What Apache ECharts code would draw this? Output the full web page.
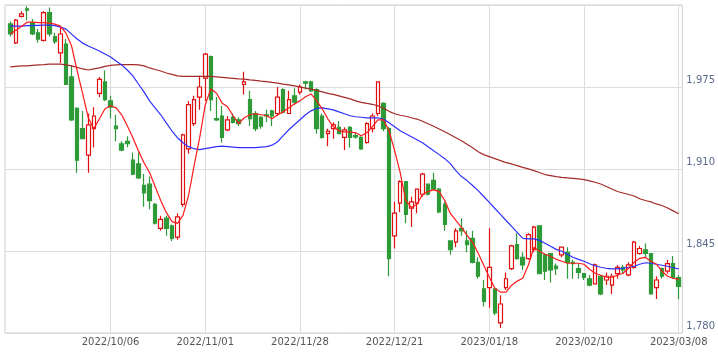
<!DOCTYPE html>
<html>
<head>
<meta charset="utf-8">
<script src="https://cdn.jsdelivr.net/npm/echarts@6/dist/echarts.min.js"></script>
<style>
	html, body { margin: 0; padding: 0; background: #fff; }
	#chart { width: 718px; height: 352px; }
</style>
</head>
<body>
<div id="chart"></div>
<script>
// trading days, 2022/09/08 .. 2023/03/08
const dates = [
	'2022/09/08','2022/09/09','2022/09/12','2022/09/13','2022/09/14','2022/09/15','2022/09/16','2022/09/20','2022/09/21','2022/09/22',
	'2022/09/26','2022/09/27','2022/09/28','2022/09/29','2022/09/30','2022/10/03','2022/10/04','2022/10/05','2022/10/06','2022/10/07',
	'2022/10/11','2022/10/12','2022/10/13','2022/10/14','2022/10/17','2022/10/18','2022/10/19','2022/10/20','2022/10/21','2022/10/24',
	'2022/10/25','2022/10/26','2022/10/27','2022/10/28','2022/10/31','2022/11/01','2022/11/02','2022/11/04','2022/11/07','2022/11/08',
	'2022/11/09','2022/11/10','2022/11/11','2022/11/14','2022/11/15','2022/11/16','2022/11/17','2022/11/18','2022/11/21','2022/11/22',
	'2022/11/24','2022/11/25','2022/11/28','2022/11/29','2022/11/30','2022/12/01','2022/12/02','2022/12/05','2022/12/06','2022/12/07',
	'2022/12/08','2022/12/09','2022/12/12','2022/12/13','2022/12/14','2022/12/15','2022/12/16','2022/12/19','2022/12/20','2022/12/21',
	'2022/12/22','2022/12/23','2022/12/26','2022/12/27','2022/12/28','2022/12/29','2022/12/30','2023/01/04','2023/01/05','2023/01/06',
	'2023/01/10','2023/01/11','2023/01/12','2023/01/13','2023/01/16','2023/01/17','2023/01/18','2023/01/19','2023/01/20','2023/01/23',
	'2023/01/24','2023/01/25','2023/01/26','2023/01/27','2023/01/30','2023/01/31','2023/02/01','2023/02/02','2023/02/03','2023/02/06',
	'2023/02/07','2023/02/08','2023/02/09','2023/02/10','2023/02/13','2023/02/14','2023/02/15','2023/02/16','2023/02/17','2023/02/20',
	'2023/02/21','2023/02/22','2023/02/24','2023/02/27','2023/02/28','2023/03/01','2023/03/02','2023/03/03','2023/03/06','2023/03/07',
	'2023/03/08'
];

const tickDates = ['2022/10/06', '2022/11/01', '2022/11/28', '2022/12/21', '2023/01/18', '2023/02/10', '2023/03/08'];
const yTicks = [1780, 1845, 1910, 1975, 2040];

const open = [
	2025, 2010, 2031, 2037, 2026, 2018, 2012, 2034, 2015, 2002,
	2009, 1983, 1958, 1942, 1921, 1942, 1970, 1979, 1964, 1944,
	1930, 1932, 1917, 1914, 1897, 1898, 1882, 1863, 1871, 1865,
	1856, 1882, 1926, 1946, 1967, 1982, 1999, 1950, 1952, 1941,
	1951, 1949, 1977, 1965, 1954, 1951, 1953, 1956, 1954, 1973,
	1954, 1968, 1971, 1979, 1979, 1973, 1952, 1938, 1942, 1943,
	1935, 1943, 1936.5, 1935, 1931, 1942, 1954, 1962, 1942, 1857,
	1883, 1900, 1879, 1883, 1890, 1898, 1901, 1894, 1882, 1853,
	1852, 1863, 1853, 1855, 1836, 1815, 1816, 1815, 1788, 1816,
	1831, 1850, 1840, 1839, 1846, 1865, 1842, 1843, 1833, 1842,
	1844, 1836, 1831, 1827, 1823, 1819, 1825, 1822, 1818, 1827,
	1832, 1826, 1832, 1843, 1846, 1843, 1816, 1831, 1829, 1835,
	1824
];
const close = [
	2017, 2028, 2033, 2036, 2017, 2013, 2034, 2017, 2011, 2017,
	1977, 1949, 1917, 1934, 1945, 1952, 1981, 1965, 1959, 1942,
	1925, 1930, 1906, 1903, 1891, 1885, 1867, 1870, 1863, 1855,
	1872, 1937, 1961, 1965, 1975, 2001, 1965, 1949, 1935, 1949,
	1947, 1946, 1979, 1950, 1942, 1944, 1952, 1952, 1967, 1955,
	1965, 1963, 1975, 1978, 1972, 1942, 1935, 1940, 1945, 1938,
	1941, 1935, 1935.5, 1926, 1946, 1952, 1979, 1942, 1839, 1875,
	1900, 1874, 1884, 1894, 1906, 1890, 1894, 1876, 1866, 1846,
	1861, 1861, 1850, 1836, 1825, 1805, 1832, 1796, 1803, 1823,
	1849, 1839, 1834, 1858, 1864, 1827, 1829, 1830, 1831, 1848,
	1836, 1835, 1828, 1824, 1818, 1834, 1811, 1825, 1825, 1832,
	1830, 1834, 1852, 1847, 1843, 1811, 1822, 1825, 1835, 1824,
	1817
];
const low = [
	2015, 2009, 2030, 2028, 2016, 2010, 2011, 2015, 2009, 1994,
	1977, 1948, 1907, 1934, 1907, 1927, 1967, 1964, 1950, 1932,
	1924, 1927, 1905, 1902, 1880, 1878, 1866, 1861, 1857, 1853,
	1854, 1880, 1922, 1944, 1957, 1964, 1956, 1948, 1931, 1940,
	1946, 1944, 1969, 1944, 1940, 1942, 1947, 1944, 1952, 1954,
	1954, 1961, 1969, 1973, 1971, 1938, 1934, 1928, 1934, 1938,
	1925, 1927, 1934, 1925, 1930, 1939, 1952, 1940, 1825, 1847,
	1876, 1867, 1864, 1875, 1888, 1889, 1893, 1875, 1861, 1842,
	1848, 1857, 1844, 1835, 1823, 1801, 1800, 1794, 1784, 1814,
	1830, 1838, 1830, 1838, 1844, 1827, 1822, 1820, 1826, 1840,
	1823, 1823, 1823, 1822, 1817, 1819, 1810, 1818, 1811, 1823,
	1827, 1825, 1831, 1842, 1840, 1811, 1807, 1823, 1827, 1823,
	1807
];
const high = [
	2027, 2029, 2035, 2039, 2029, 2021, 2035, 2038, 2018, 2022,
	2013, 1992, 1959, 1956, 1954, 1959, 1983, 1988, 1968, 1953,
	1932, 1936, 1923, 1923, 1906, 1904, 1883, 1873, 1873, 1866,
	1875, 1938, 1964, 1968, 1984, 2002, 2000, 1967, 1960, 1952,
	1954, 1951, 1987, 1972, 1956, 1952, 1957, 1957, 1975, 1974,
	1972, 1974, 1977, 1980, 1980, 1974, 1954, 1942, 1947, 1948,
	1943, 1944, 1939, 1936, 1947, 1954, 1979, 1963, 1943, 1884,
	1901, 1900, 1888, 1894, 1907, 1898, 1907, 1895, 1884, 1853,
	1863, 1871, 1861, 1861, 1840, 1822, 1863, 1815, 1810, 1828,
	1850, 1859, 1844, 1859, 1865, 1865, 1843, 1843, 1835, 1848,
	1848, 1838, 1835, 1827, 1826, 1835, 1826, 1828, 1827, 1834,
	1834, 1836, 1853, 1849, 1851, 1843, 1825, 1832, 1838, 1841,
	1826
];

// moving averages
const maShort = [
	2017, 2020, 2023, 2026.4, 2026.4, 2026, 2026, 2025.6, 2024.8, 2023.3,
	2017.7, 2007.5, 1987.7, 1969.5, 1950.6, 1941.9, 1949.8, 1957.7, 1960.1, 1958.5,
	1953, 1944.3, 1934.8, 1924.5, 1915, 1907.2, 1896.1, 1885, 1875.6, 1868.5,
	1866.9, 1873.2, 1889, 1912.7, 1934.8, 1960.9, 1973.5, 1970.3, 1962.4, 1959.3,
	1952.2, 1945.9, 1950.6, 1953, 1953.8, 1953, 1952.2, 1949.8, 1953, 1955.3,
	1958.5, 1961.6, 1964, 1967.2, 1969.5, 1964, 1957.7, 1949.8, 1943.5, 1940.3,
	1939.5, 1939.5, 1938.7, 1936.4, 1938.7, 1943.5, 1949, 1949, 1940.3, 1924.5,
	1907.2, 1885, 1879.5, 1881.9, 1889.8, 1892.1, 1893.7, 1892.1, 1885, 1874.8,
	1869.2, 1863.7, 1857.4, 1851.9, 1843.2, 1833.7, 1824.2, 1815.5, 1812.4, 1812.4,
	1817.9, 1821.1, 1823.4, 1833.7, 1847.9, 1844.8, 1842.4, 1840.8, 1838.4, 1836.9,
	1835.3, 1835.3, 1835.3, 1834.5, 1830.5, 1827.4, 1825.8, 1824.2, 1824.2, 1825.8,
	1827.4, 1831.3, 1836.1, 1839.2, 1840, 1836.9, 1834.5, 1829, 1825, 1823.4,
	1822.5
];
const maMid = [
	2023.3, 2023.3, 2023.3, 2023.6, 2023.6, 2023.8, 2024, 2024, 2023.6, 2022.5,
	2020.9, 2016.9, 2013, 2009.8, 2007.5, 2005.5, 2003.5, 2001.1, 1998.8, 1995.6,
	1992.5, 1988.5, 1983.8, 1977.4, 1971.1, 1964, 1958.5, 1953, 1946.6, 1940.3,
	1934.8, 1930.8, 1927.7, 1926.1, 1925.3, 1926.1, 1926.9, 1927.7, 1928.1, 1927.7,
	1927.3, 1926.9, 1926.9, 1926.9, 1926.9, 1927.3, 1927.7, 1928.9, 1931.6, 1936.4,
	1941.1, 1945.1, 1949, 1953, 1956.1, 1958.1, 1958.5, 1957.7, 1956.9, 1955.3,
	1953.8, 1952.2, 1951.4, 1951, 1950.6, 1950.6, 1950.6, 1949.4, 1946.6, 1943.5,
	1940.3, 1937.9, 1935.6, 1933.2, 1930.8, 1927.7, 1924.5, 1921.4, 1918.2, 1914.3,
	1908.7, 1904, 1900.8, 1896.9, 1892.9, 1888.2, 1883.5, 1878.7, 1874, 1869.2,
	1864.5, 1859.8, 1855, 1854.6, 1854.6, 1853.4, 1851.1, 1848.7, 1846.3, 1844.8,
	1842.4, 1840, 1838.4, 1836.9, 1834.9, 1833.3, 1832.1, 1831.3, 1830.9, 1830.9,
	1831.3, 1832.1, 1832.9, 1834.5, 1835.7, 1835.3, 1834.5, 1833.7, 1832.9, 1831.7,
	1830.9
];
const maLong = [
	1990.9, 1991.3, 1991.7, 1991.7, 1992.1, 1992.5, 1992.8, 1993.2, 1993.2, 1993.2,
	1992.5, 1991.7, 1990.5, 1989.3, 1988.5, 1989.3, 1990.1, 1991.3, 1992.1, 1992.5,
	1992.8, 1992.8, 1992.8, 1992.5, 1991.7, 1990.1, 1988.9, 1987.7, 1986.1, 1985,
	1983.8, 1983.5, 1983.4, 1983.4, 1983.4, 1983.4, 1983.4, 1983, 1982.6, 1982.2,
	1981.8, 1981.4, 1981.2, 1980.6, 1980.2, 1979.7, 1979.3, 1978.6, 1978, 1977.3,
	1976.7, 1975.9, 1975.1, 1974.1, 1973.3, 1972.3, 1971.1, 1969.9, 1969.2, 1968,
	1966.8, 1965.6, 1964, 1962.8, 1962, 1961.3, 1960.1, 1958.1, 1955.7, 1953.8,
	1952.6, 1951.8, 1950.6, 1949.6, 1947.8, 1945.9, 1943.9, 1941.7, 1939.5, 1937.2,
	1934.8, 1932.4, 1929.7, 1926.9, 1923.7, 1921.4, 1919.8, 1918.2, 1916.6, 1915.1,
	1914, 1912.7, 1911.3, 1910.1, 1908.7, 1907.2, 1905.6, 1904.8, 1904, 1903.4,
	1903, 1902.6, 1902.1, 1901.6, 1900.6, 1899.5, 1898.1, 1896.1, 1894.1, 1892.2,
	1891, 1889.8, 1888.6, 1886.4, 1885, 1883.9, 1882.3, 1881.1, 1879.1, 1876.8,
	1874.5
];

const candles = dates.map((d, i) => [open[i], close[i], low[i], high[i]]);
const isTick = (idx, val) => tickDates.indexOf(val) !== -1;

let myChart = echarts.init(document.getElementById('chart'), null, { renderer: 'canvas' });
let option = {
	animation: false,
	backgroundColor: '#fff',
	grid: [
		// frame + horizontal grid lines
		{ left: 5, right: 34, top: 5, bottom: 19, show: true, borderColor: '#cfcfcf', borderWidth: 1, backgroundColor: 'transparent' },
		// plotting area, first and last candle centred on the edges
		{ left: 10.3, right: 39.3, top: 5, bottom: 19 }
	],
	xAxis: [
		{ type: 'value', gridIndex: 0, show: false, min: 0, max: 1 },
		{
			type: 'category',
			gridIndex: 1,
			data: dates,
			boundaryGap: false,
			axisLine: { show: false },
			axisTick: { show: false },
			axisLabel: {
				interval: isTick,
				margin: 4,
				color: '#555',
				fontFamily: '"DejaVu Sans", sans-serif',
				fontSize: 10
			},
			splitLine: {
				show: true,
				interval: isTick,
				lineStyle: { color: '#dcdcdc', width: 1 }
			}
		}
	],
	yAxis: [
		{
			type: 'value',
			gridIndex: 0,
			position: 'right',
			min: yTicks[0],
			max: yTicks[yTicks.length - 1],
			interval: 65,
			axisLine: { show: false },
			axisTick: { show: false },
			splitLine: { lineStyle: { color: '#dcdcdc', width: 1 } },
			axisLabel: {
				showMaxLabel: false,
				margin: 4,
				verticalAlign: 'bottom',
				padding: [0, 0, 2, 0],
				color: '#5a6a8e',
				fontFamily: '"DejaVu Sans", sans-serif',
				fontSize: 10,
				formatter: function(v) {
					return v === 2040 ? '' : v.toLocaleString('en-US');
				}
			}
		},
		{
			type: 'value',
			gridIndex: 1,
			show: false,
			min: yTicks[0],
			max: yTicks[yTicks.length - 1],
			splitLine: { show: false }
		}
	],
	series: [
		{
			type: 'candlestick',
			xAxisIndex: 1,
			yAxisIndex: 1,
			data: candles,
			barWidth: 4,
			clip: false,
			itemStyle: {
				color: '#ffffff',
				color0: '#2e9a38',
				borderColor: '#e01010',
				borderColor0: '#2e9a38',
				borderWidth: 1.2
			}
		},
		{
			type: 'line',
			xAxisIndex: 1,
			yAxisIndex: 1,
			data: maLong,
			symbol: 'none',
			lineStyle: { color: '#a52a2a', width: 1.2 }
		},
		{
			type: 'line',
			xAxisIndex: 1,
			yAxisIndex: 1,
			data: maMid,
			symbol: 'none',
			lineStyle: { color: '#2f2fff', width: 1.2 }
		},
		{
			type: 'line',
			xAxisIndex: 1,
			yAxisIndex: 1,
			data: maShort,
			symbol: 'none',
			lineStyle: { color: '#ff1a1a', width: 1.2 }
		}
	]
};
myChart.setOption(option);
</script>
</body>
</html>
